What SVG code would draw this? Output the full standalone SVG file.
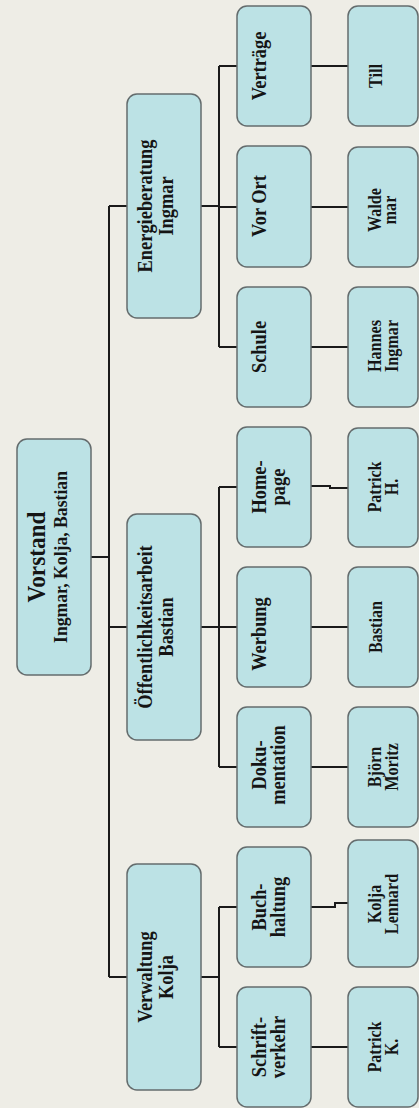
<svg xmlns="http://www.w3.org/2000/svg" width="419" height="1108" viewBox="0 0 419 1108">
<style>
.bg{fill:#EEEDE6}
.box{fill:#BCE2E5;stroke:#646C6D;stroke-width:1.5}
.ln{fill:none;stroke:#1A1A1A;stroke-width:2}
text{font-family:"Liberation Serif","Times New Roman",serif;font-weight:bold;fill:#151515;text-anchor:middle}
.t1{font-size:25px}
.t2{font-size:19px}
.t3{font-size:20px}
.t4{font-size:18px}
</style>
<rect class="bg" x="0" y="0" width="419" height="1108"/>
<g id="connectors">
<path class="ln" d="M91,557 H109 M109,206 V977 M109,206 H127 M109,627 H127 M109,977 H127"/>
<path class="ln" d="M201,206 H219 M219,66 V347 M219,66 H237 M219,207 H237 M219,347 H237"/>
<path class="ln" d="M201,627 H219 M219,487 V767 M219,487 H237 M219,627 H237 M219,767 H237"/>
<path class="ln" d="M201,977 H219 M219,907 V1047 M219,907 H237 M219,1047 H237"/>
<path class="ln" d="M311,66 H348 M311,207 H348 M311,347 H348 M311,486 H330 V488 H348 M311,627 H348 M311,767 H348 M311,907 H335 V903 H348 M311,1047 H348"/>
</g>
<g id="vorstand"><rect class="box" x="17" y="439" width="74" height="236" rx="10"/>
<text transform="translate(54,557) rotate(-90) scale(0.93,1)"><tspan class="t1" x="0" y="-9">Vorstand</tspan><tspan class="t2" x="0" y="13">Ingmar, Kolja, Bastian</tspan></text></g>
<g id="energieberatung"><rect class="box" x="127" y="94" width="74" height="224" rx="10"/>
<text class="t3" transform="translate(164,206) rotate(-90) scale(0.92,1)"><tspan x="0" y="-12">Energieberatung</tspan><tspan x="0" y="9">Ingmar</tspan></text></g>
<g id="oeffentlichkeitsarbeit"><rect class="box" x="127" y="514" width="74" height="226" rx="10"/>
<text class="t3" transform="translate(164,627) rotate(-90) scale(0.92,1)"><tspan x="0" y="-12">Öffentlichkeitsarbeit</tspan><tspan x="0" y="9">Bastian</tspan></text></g>
<g id="verwaltung"><rect class="box" x="127" y="864" width="74" height="226" rx="10"/>
<text class="t3" transform="translate(164,977) rotate(-90) scale(0.92,1)"><tspan x="0" y="-12">Verwaltung</tspan><tspan x="0" y="9">Kolja</tspan></text></g>
<g id="vertraege"><rect class="box" x="237" y="6" width="74" height="120" rx="10"/>
<text class="t3" transform="translate(274,66) rotate(-90) scale(0.92,1)"><tspan x="0" y="-8">Verträge</tspan></text></g>
<g id="vorort"><rect class="box" x="237" y="146" width="74" height="121" rx="10"/>
<text class="t3" transform="translate(274,206) rotate(-90) scale(0.92,1)"><tspan x="0" y="-8">Vor Ort</tspan></text></g>
<g id="schule"><rect class="box" x="237" y="287" width="74" height="120" rx="10"/>
<text class="t3" transform="translate(274,347) rotate(-90) scale(0.92,1)"><tspan x="0" y="-8">Schule</tspan></text></g>
<g id="homepage"><rect class="box" x="237" y="427" width="74" height="120" rx="10"/>
<text class="t3" transform="translate(274,487) rotate(-90) scale(0.92,1)"><tspan x="0" y="-8">Home-</tspan><tspan x="0" y="11">page</tspan></text></g>
<g id="werbung"><rect class="box" x="237" y="567" width="74" height="120" rx="10"/>
<text class="t3" transform="translate(274,634) rotate(-90) scale(0.92,1)"><tspan x="0" y="-8">Werbung</tspan></text></g>
<g id="dokumentation"><rect class="box" x="237" y="707" width="74" height="120" rx="10"/>
<text class="t3" transform="translate(274,765) rotate(-90) scale(0.92,1)"><tspan x="0" y="-8">Doku-</tspan><tspan x="0" y="11">mentation</tspan></text></g>
<g id="buchhaltung"><rect class="box" x="237" y="847" width="74" height="120" rx="10"/>
<text class="t3" transform="translate(274,907) rotate(-90) scale(0.92,1)"><tspan x="0" y="-8">Buch-</tspan><tspan x="0" y="11">haltung</tspan></text></g>
<g id="schriftverkehr"><rect class="box" x="237" y="987" width="74" height="120" rx="10"/>
<text class="t3" transform="translate(274,1047) rotate(-90) scale(0.92,1)"><tspan x="0" y="-8">Schrift-</tspan><tspan x="0" y="11">verkehr</tspan></text></g>
<g id="till"><rect class="box" x="348" y="6" width="70" height="120" rx="10"/>
<text class="t4" transform="translate(383,76) rotate(-90) scale(0.9,1)"><tspan x="0" y="-1">Till</tspan></text></g>
<g id="waldemar"><rect class="box" x="348" y="147" width="70" height="120" rx="10"/>
<text class="t4" transform="translate(383,210) rotate(-90) scale(0.9,1)"><tspan x="0" y="-2">Walde</tspan><tspan x="0" y="13">mar</tspan></text></g>
<g id="hannesingmar"><rect class="box" x="348" y="287" width="70" height="120" rx="10"/>
<text class="t4" transform="translate(383,346) rotate(-90) scale(0.9,1)"><tspan x="0" y="-2">Hannes</tspan><tspan x="0" y="15">Ingmar</tspan></text></g>
<g id="patrickh"><rect class="box" x="348" y="428" width="70" height="119" rx="10"/>
<text class="t4" transform="translate(383,487) rotate(-90) scale(0.9,1)"><tspan x="0" y="-2">Patrick</tspan><tspan x="0" y="15">H.</tspan></text></g>
<g id="bastian"><rect class="box" x="348" y="567" width="70" height="120" rx="10"/>
<text class="t4" transform="translate(383,627) rotate(-90) scale(0.9,1)"><tspan x="0" y="-1">Bastian</tspan></text></g>
<g id="bjoernmoritz"><rect class="box" x="348" y="707" width="70" height="120" rx="10"/>
<text class="t4" transform="translate(383,767) rotate(-90) scale(0.9,1)"><tspan x="0" y="-2">Björn</tspan><tspan x="0" y="15">Moritz</tspan></text></g>
<g id="koljalennard"><rect class="box" x="348" y="840" width="70" height="127" rx="10"/>
<text class="t4" transform="translate(383,904) rotate(-90) scale(0.9,1)"><tspan x="0" y="-2">Kolja</tspan><tspan x="0" y="15">Lennard</tspan></text></g>
<g id="patrickk"><rect class="box" x="348" y="987" width="70" height="120" rx="10"/>
<text class="t4" transform="translate(383,1047) rotate(-90) scale(0.9,1)"><tspan x="0" y="-2">Patrick</tspan><tspan x="0" y="15">K.</tspan></text></g>
</svg>
